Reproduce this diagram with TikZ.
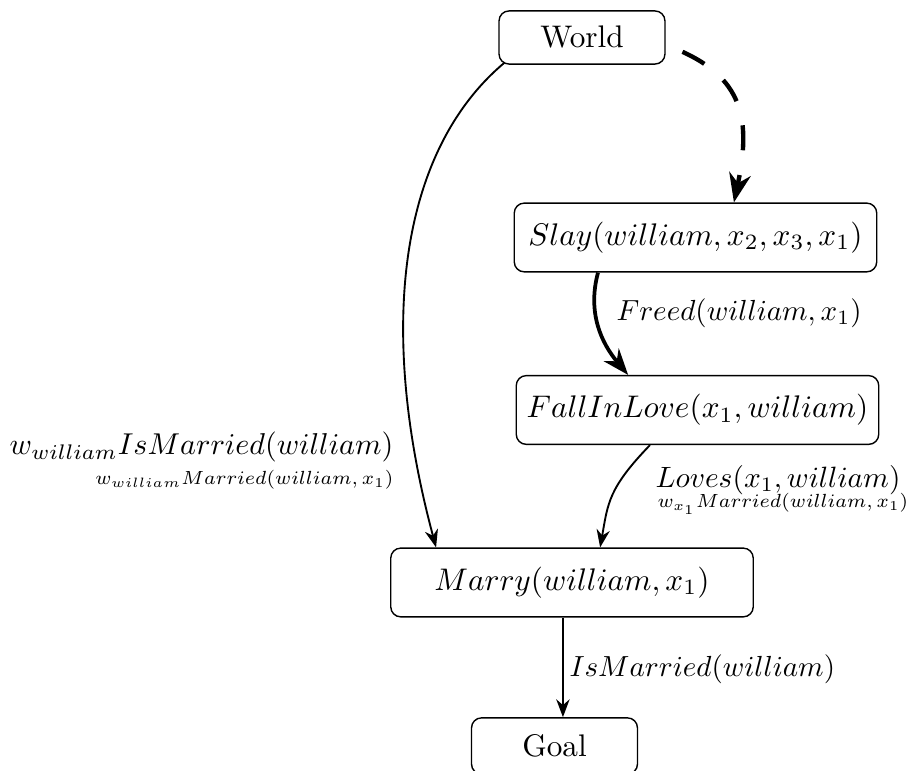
\documentclass[tikz,border=0pt]{standalone}
\usetikzlibrary{arrows.meta}
\begin{document}
\begin{tikzpicture}[x=0.32pt,y=-0.32pt,
  smallbox/.style={draw,line width=0.45pt,rounded corners=3.2pt,minimum width=53.1pt,minimum height=17pt,inner sep=0pt},
  bigbox/.style={draw,line width=0.45pt,rounded corners=3.2pt,minimum width=116pt,minimum height=22pt,inner sep=0pt},
  link/.style={line width=0.6pt,-{Stealth}},
  strong/.style={line width=1.2pt,-{Stealth}},
  hint/.style={line width=1.4pt,dash pattern=on 8pt off 8pt,dash phase=10.2pt,-{Stealth}},
  lbl/.style={inner sep=0pt}]
\useasboundingbox (0,0) rectangle (912,771);

% plan steps
\node[smallbox] (world) at (582,37.5) {World};
\node[bigbox]   (slay)  at (695.5,237.5) {$Slay(william,x_2,x_3,x_1)$};
\node[bigbox]   (fall)  at (697.5,410) {$FallInLove(x_1,william)$};
\node[bigbox]   (marry) at (572,582.5) {$Marry(william,x_1)$};
\node[smallbox,minimum height=18pt] (goal) at (554.5,746) {Goal};

% causal links
\draw[link] ([shift={(1.9pt,0.6pt)}]world.south west)
  to[out=220,in=105,out distance=41.6pt,in distance=76.8pt] ([xshift=-43.5pt]marry.north);
\draw[hint] ([yshift=-2.4pt]world.east)
  to[out=-20,in=78,out distance=25.6pt,in distance=28.8pt] ([xshift=12.3pt]slay.north);
\draw[strong] ([xshift=-31.2pt]slay.south) to[out=255,in=130] ([xshift=-22.2pt]fall.north);
\draw[link] ([xshift=-15.2pt]fall.south)
  to[out=226,in=80,out distance=19.2pt,in distance=14.4pt] ([xshift=9pt]marry.north);
\draw[link] ([xshift=-2.9pt]marry.south) -- ([xshift=-2.9pt]marry.south |- goal.north);

% link labels
\node[lbl,anchor=east] (la) at (394,447) {\scalebox{0.965}{$w_{william}IsMarried(william)$}};
\node[lbl,anchor=east] (lb) at (394,480) {\scalebox{0.87}{\scriptsize $w_{william}Married(william,x_1)$}};
\node[lbl,anchor=west] (lfreed) at (616,313) {\scalebox{0.93}{$Freed(william,x_1)$}};
\node[lbl,anchor=west] (lloves) at (655,480) {\scalebox{0.94}{$Loves(x_1,william)$}};
\node[lbl,anchor=west] (lw) at (657,504) {\scalebox{0.87}{\scriptsize $w_{x_1}Married(william,x_1)$}};
\node[lbl,anchor=west] (lis) at (569,669) {\scalebox{0.93}{$IsMarried(william)$}};
\end{tikzpicture}
\end{document}
